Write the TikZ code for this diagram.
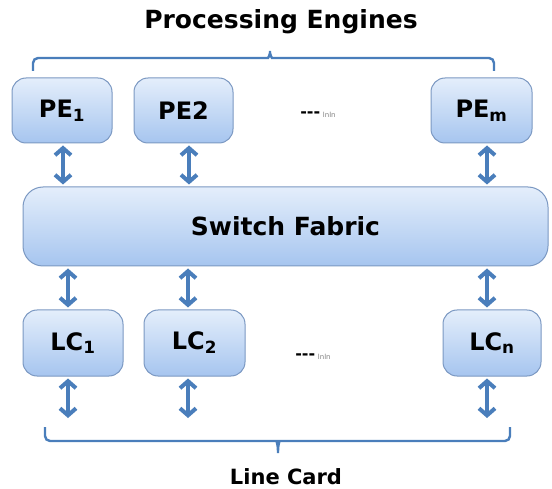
\documentclass[tikz,border=0pt]{standalone}
\usepackage{fontspec}
\setmainfont{DejaVu Sans}
\usepackage{xcolor}
\usepackage{tikz}
\usetikzlibrary{arrows.meta}

\definecolor{boxtop}{HTML}{E4EEFB}
\definecolor{boxbot}{HTML}{A6C5EF}
\definecolor{boxline}{HTML}{7B98C2}
\definecolor{linkblue}{HTML}{4A7EBB}

\tikzset{
    unit/.style={draw=boxline, line width=1pt, rounded corners=14pt, top color=boxtop, bottom color=boxbot,
        inner sep=0pt, minimum height=65pt, font=\fontsize{24}{26}\selectfont\bfseries},
    link/.style={linkblue, line width=4pt, {Straight Barb[length=7pt,width=16pt]}-{Straight Barb[length=7pt,width=16pt]},
        shorten <=2pt, shorten >=2pt},
    brace/.style={linkblue, line width=2.4pt, rounded corners=5pt},
    dots/.style={font=\fontsize{16}{18}\selectfont\bfseries}
}

\begin{document}
\begin{tikzpicture}[x=1pt, y=-1pt]
        \useasboundingbox (0, 0) rectangle (552, 489);

        \node [anchor=base, font=\fontsize{25}{27}\selectfont\bfseries] (pengines) at (281, 29) {Processing Engines};
        \draw[brace] (33, 71) -- (33, 58) -- (263, 58) .. controls (268, 58) and (270, 55) .. (270, 48)
            .. controls (270, 55) and (272, 58) .. (277, 58) -- (494, 58) -- (494, 71);

        \node [unit, minimum width=100pt] (pe1) at (62, 110.5) {PE\textsubscript{1}};
        \node [unit, minimum width=99pt] (pe2) at (183.5, 110.5) {PE2};
        \node [unit, minimum width=101pt] (pem) at (481.5, 110.5) {PE\textsubscript{m}};
        \node [dots] (pedots) at (318, 115) {-{}-{}-\,{\fontsize{7}{8}\selectfont\mdseries\color{gray}lnln}};

        \node [unit, minimum width=525pt, minimum height=79pt, rounded corners=20pt,
            font=\fontsize{25}{27}\selectfont\bfseries] (fabric) at (285.5, 226.5) {Switch Fabric};

        \node [unit, minimum width=100pt, minimum height=66pt] (lc1) at (73, 343) {LC\textsubscript{1}};
        \node [unit, minimum width=101pt, minimum height=66pt] (lc2) at (194.5, 343) {LC\textsubscript{2}};
        \node [unit, minimum width=98pt, minimum height=66pt] (lcn) at (492, 343) {LC\textsubscript{n}};
        \node [dots] (lcdots) at (313, 357) {-{}-{}-\,{\fontsize{7}{8}\selectfont\mdseries\color{gray}lnln}};

        \foreach \b/\dx in {pe1/1, pe2/5.5, pem/5.5} {
            \draw[link] ([xshift=\dx pt]\b.south) -- ([xshift=\dx pt]\b.south |- fabric.north);
        }
        \foreach \b/\dx in {lc1/-5, lc2/-6.5, lcn/-5} {
            \coordinate (\b out) at ([xshift=\dx pt]\b.south |- 0, 420);
            \draw[link] ([xshift=\dx pt]\b.north) -- ([xshift=\dx pt]\b.north |- fabric.south);
            \draw[link] ([xshift=\dx pt]\b.south) -- (\b out);
        }

        \draw[brace] (45, 427) -- (45, 441) -- (272, 441) .. controls (276, 441) and (278, 444) .. (278, 456)
            .. controls (278, 444) and (280, 441) .. (284, 441) -- (510, 441) -- (510, 427);
        \node [anchor=base, font=\fontsize{21}{23}\selectfont\bfseries] (linecard) at (286, 484) {Line Card};
\end{tikzpicture}
\end{document}
